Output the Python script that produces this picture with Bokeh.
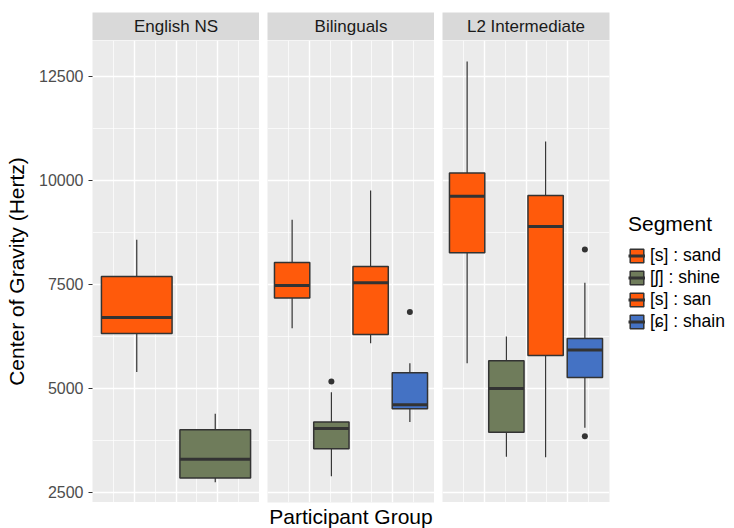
from bokeh.plotting import figure
from bokeh.models import (Range1d, LinearAxis, FixedTicker, Grid, Label, Legend,
                          LegendItem, ColumnDataSource)
from bokeh.layouts import row, column
from bokeh.embed import file_html
from bokeh.resources import INLINE

FONT = "Liberation Sans"

# ---------------- data ----------------
segments = ["[s] : sand", "[ʃ] : shine", "[s] : san", "[ɕ] : shain"]
segment_colors = ["#FF5A0B", "#6F7C5B", "#FF5A0B", "#4472C4"]
panels = ["English NS", "Bilinguals", "L2 Intermediate"]

english_segments = ["[s] : sand", "[ʃ] : shine"]
english_low = [5390, 2740]
english_q1 = [6315, 2840]
english_median = [6700, 3290]
english_q3 = [7685, 4000]
english_high = [8570, 4385]
english_outlier_seg = []
english_outlier_val = []

bil_segments = ["[s] : sand", "[ʃ] : shine", "[s] : san", "[ɕ] : shain"]
bil_low = [6440, 2885, 6080, 4185]
bil_q1 = [7165, 3545, 6290, 4505]
bil_median = [7470, 4030, 7535, 4600]
bil_q3 = [8020, 4185, 7925, 5370]
bil_high = [9050, 4905, 9750, 5600]
bil_outlier_seg = ["[ʃ] : shine", "[ɕ] : shain"]
bil_outlier_val = [5160, 6830]

l2_segments = ["[s] : sand", "[ʃ] : shine", "[s] : san", "[ɕ] : shain"]
l2_low = [5600, 3350, 3340, 4050]
l2_q1 = [8255, 3940, 5785, 5255]
l2_median = [9615, 4995, 8885, 5915]
l2_q3 = [10170, 5660, 9630, 6195]
l2_high = [12855, 6245, 10930, 7535]
l2_outlier_seg = ["[ɕ] : shain", "[ɕ] : shain"]
l2_outlier_val = [8335, 3845]

y_major = [2500, 5000, 7500, 10000, 12500]
y_minor = [3750, 6250, 8750, 11250]
x_major = [-0.25, 0, 0.25]
x_minor = [-0.375, -0.125, 0.125, 0.375]

# ---------------- style / layout ----------------
PANEL_W = 167
PANEL_H = 462
GAP = 8
LEFT = 92
RIGHT = 125
Y_RANGE = (2252, 13358)
DODGE = 0.94
BOX_FRAC = 0.9
LINE = "#333333"

color_of = dict(zip(segments, segment_colors))


def style_fig(p):
    p.outline_line_color = None
    p.border_fill_color = "white"


def make_strip(name, left, right):
    s = figure(frame_width=PANEL_W, frame_height=28,
               x_range=Range1d(-0.5, 0.5), y_range=Range1d(0, 1),
               x_axis_type=None, y_axis_type=None, toolbar_location=None,
               output_backend="svg", min_border_left=left, min_border_right=right,
               min_border_top=12, min_border_bottom=0)
    style_fig(s)
    s.background_fill_color = "#D9D9D9"
    s.add_layout(Label(x=0, y=0.5, text=name, text_align="center", text_baseline="middle",
                       text_font=FONT, text_font_size="17px", text_color="#1A1A1A"))
    return s


def make_panel(segs, low, q1, med, q3, high, out_seg, out_val, left, right):
    p = figure(frame_width=PANEL_W, frame_height=PANEL_H,
               x_range=Range1d(-0.5, 0.5), y_range=Range1d(*Y_RANGE),
               x_axis_type=None, y_axis_type=None, toolbar_location=None,
               output_backend="svg", min_border_left=left, min_border_right=right,
               min_border_top=0, min_border_bottom=0)
    style_fig(p)
    p.background_fill_color = "#EBEBEB"
    p.add_layout(Grid(dimension=1, ticker=FixedTicker(ticks=y_major, minor_ticks=y_minor),
                      grid_line_color="white", grid_line_width=1.4,
                      minor_grid_line_color="white", minor_grid_line_width=0.7))
    p.add_layout(Grid(dimension=0, ticker=FixedTicker(ticks=x_major, minor_ticks=x_minor),
                      grid_line_color="white", grid_line_width=1.4,
                      minor_grid_line_color="white", minor_grid_line_width=0.7))

    n = len(segs)
    slot = DODGE / n
    xs = [-DODGE / 2 + slot * (i + 0.5) for i in range(n)]
    w = slot * BOX_FRAC
    src = ColumnDataSource(dict(
        x=xs, low=low, q1=q1, med=med, q3=q3, high=high,
        xl=[x - w / 2 for x in xs], xr=[x + w / 2 for x in xs],
        color=[color_of[s] for s in segs], seg=segs))
    p.segment(x0="x", y0="q3", x1="x", y1="high", source=src, line_color=LINE, line_width=1.2)
    p.segment(x0="x", y0="low", x1="x", y1="q1", source=src, line_color=LINE, line_width=1.2)
    box = p.vbar(x="x", width=w, bottom="q1", top="q3", source=src, fill_color="color",
                 line_color=LINE, line_width=1.5)
    medr = p.segment(x0="xl", y0="med", x1="xr", y1="med", source=src, line_color=LINE,
                     line_width=3)
    if out_val:
        ox = [xs[segs.index(s)] for s in out_seg]
        p.scatter(x=ox, y=out_val, size=6, fill_color=LINE, line_color=None)
    return p, box, medr


p1, _, _ = make_panel(english_segments, english_low, english_q1, english_median, english_q3,
                      english_high, english_outlier_seg, english_outlier_val, LEFT, 0)
p2, _, _ = make_panel(bil_segments, bil_low, bil_q1, bil_median, bil_q3, bil_high,
                      bil_outlier_seg, bil_outlier_val, GAP, 0)
p3, box3, med3 = make_panel(l2_segments, l2_low, l2_q1, l2_median, l2_q3, l2_high,
                            l2_outlier_seg, l2_outlier_val, GAP, RIGHT)

yaxis = LinearAxis(ticker=FixedTicker(ticks=y_major, minor_ticks=y_minor),
                   axis_line_color=None, major_tick_line_color=LINE, major_tick_line_width=1.2,
                   major_tick_out=4, major_tick_in=0, minor_tick_line_color=None,
                   major_label_text_font=FONT, major_label_text_font_size="16px",
                   major_label_text_color="#4D4D4D", major_label_standoff=5,
                   axis_label="Center of Gravity (Hertz)", axis_label_text_font=FONT,
                   axis_label_text_font_size="21px", axis_label_text_font_style="normal",
                   axis_label_text_color="black", axis_label_standoff=8)
p1.add_layout(yaxis, "left")

xaxis = LinearAxis(ticker=FixedTicker(ticks=[]), axis_line_color=None,
                   major_tick_line_color=None, minor_tick_line_color=None,
                   major_tick_out=0, major_tick_in=0, major_label_standoff=0,
                   axis_label="Participant Group", axis_label_text_font=FONT,
                   axis_label_text_font_size="21px", axis_label_text_font_style="normal",
                   axis_label_text_color="black", axis_label_standoff=2)
p2.add_layout(xaxis, "below")

items = [LegendItem(label=segments[i], renderers=[box3, med3], index=i) for i in range(4)]
legend = Legend(items=items, title="Segment", title_text_font=FONT, title_text_font_size="21px",
                title_text_font_style="normal", title_text_color="black", title_standoff=9,
                label_text_font=FONT, label_text_font_size="17.5px", label_text_color="black",
                glyph_width=17, glyph_height=17, label_height=17, label_standoff=5, spacing=1,
                padding=0, margin=0, border_line_color=None, background_fill_alpha=0,
                location=(19, 170))
p3.add_layout(legend, "right")

s1 = make_strip(panels[0], LEFT, 0)
s2 = make_strip(panels[1], GAP, 0)
s3 = make_strip(panels[2], GAP, RIGHT)

layout = column(row(s1, s2, s3), row(p1, p2, p3))
open("out.html", "w").write(file_html(layout, INLINE))
